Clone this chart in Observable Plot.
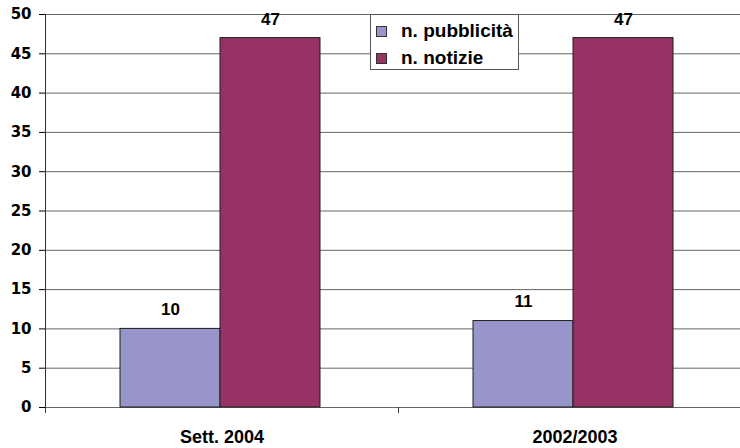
<!DOCTYPE html>
<html>
<head>
<meta charset="utf-8">
<script src="https://cdn.jsdelivr.net/npm/d3@7"></script>
<script src="https://cdn.jsdelivr.net/npm/@observablehq/plot@0.6"></script>
<style>
  html, body { margin: 0; padding: 0; background: #fff; }
  #chart { position: relative; width: 740px; height: 448px; overflow: hidden; }
  #chart svg { display: block; }
  g[aria-label="y-axis tick label"] text, g[aria-label="y-axis"] text {
    font: bold 15px "DejaVu Sans", sans-serif; fill: #000;
  }
  g[aria-label="fx-axis tick label"] text, g[aria-label="fx-axis"] text {
    font: bold 18px "Liberation Sans", Arial, sans-serif; fill: #000;
  }
  #legend {
    position: absolute; left: 370px; top: 14px; width: 147px; height: 54px;
    background: #fff; border: 1px solid #555;
    font: bold 19px "Liberation Sans", Arial, sans-serif; color: #000;
  }
  #legend .row { position: absolute; left: 5px; height: 20px; display: flex; align-items: center; }
  #legend .sw { width: 9px; height: 9px; border: 1px solid #333; margin-right: 14px; }
</style>
</head>
<body>
<div id="chart"></div>
<script>
// Periods compared, series names and counts per series (one entry per period)
const periods = ["Sett. 2004", "2002/2003"];
const series = ["n. pubblicità", "n. notizie"];
const pubblicita = [10, 11];
const notizie = [47, 47];
const seriesColors = ["#9795c9", "#973264"];
const yTicks = [0, 5, 10, 15, 20, 25, 30, 35, 40, 45, 50];

const valuesBySeries = [pubblicita, notizie];
const rows = periods.flatMap((p, i) =>
  series.map((s, j) => ({period: p, series: s, value: valuesBySeries[j][i]}))
);

const plot = Plot.plot({
  width: 740,
  height: 448,
  marginTop: 14,
  marginBottom: 41,
  marginLeft: 45,
  marginRight: -11,
  facet: {data: rows, x: "period"},
  fx: {domain: periods, padding: 0, axis: "bottom", label: null, tickSize: 0, tickPadding: 23},
  x: {domain: series, axis: null, paddingInner: 0, paddingOuter: 0.765, align: 0.49},
  y: {domain: [0, 50], ticks: yTicks, tickSize: 6, tickPadding: 8, label: null},
  color: {domain: series, range: seriesColors},
  marks: [
    Plot.ruleY(yTicks, {stroke: "#666", strokeWidth: 1}),
    Plot.barY(rows, {x: "series", y: "value", fill: "series", stroke: "#1e1e1e", strokeWidth: 1, inset: 0}),
    Plot.text(rows, {
      x: "series", y: "value", text: d => String(d.value), dy: -19,
      fontSize: 17, fontWeight: "bold", fontFamily: "Liberation Sans, Arial, sans-serif", fill: "#000"
    })
  ]
});

// Axis line on the left and separators between the periods, placed with the plot's scales
const svg = d3.select(plot);
const ys = plot.scale("y");
const fxs = plot.scale("fx");
const y0 = ys.apply(0), y50 = ys.apply(50);
const g = svg.append("g").attr("stroke", "#333").attr("stroke-width", 1);
g.append("line").attr("x1", 45.5).attr("x2", 45.5).attr("y1", y50).attr("y2", y0 + 6);
periods.slice(1).forEach(p => {
  const x = Math.round(fxs.apply(p)) + 0.5;
  g.append("line").attr("x1", x).attr("x2", x).attr("y1", y0).attr("y2", y0 + 6);
});

const chart = document.getElementById("chart");
chart.appendChild(plot);

// Legend box
const legend = document.createElement("div");
legend.id = "legend";
series.forEach((s, i) => {
  const row = document.createElement("div");
  row.className = "row";
  row.style.top = (i === 0 ? 6 : 33) + "px";
  const sw = document.createElement("span");
  sw.className = "sw";
  sw.style.background = seriesColors[i];
  const label = document.createElement("span");
  label.textContent = s;
  row.appendChild(sw);
  row.appendChild(label);
  legend.appendChild(row);
});
chart.appendChild(legend);
</script>
</body>
</html>
